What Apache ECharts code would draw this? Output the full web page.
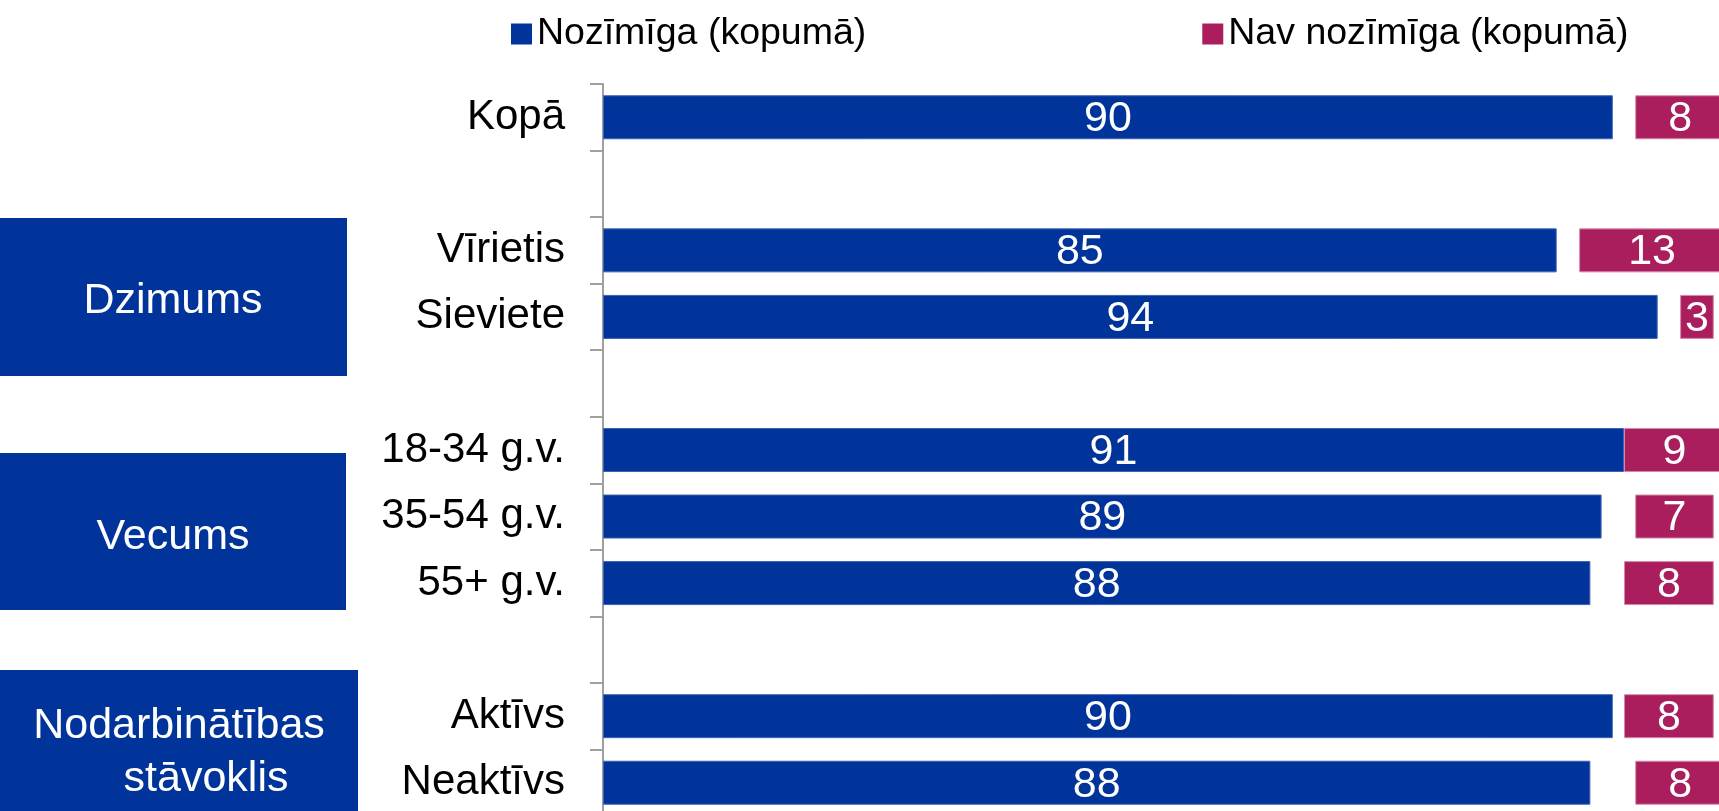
<!DOCTYPE html>
<html>
<head>
<meta charset="utf-8">
<script src="https://cdn.jsdelivr.net/npm/echarts@6/dist/echarts.min.js"></script>
<style>
  html, body { margin: 0; padding: 0; background: #fff; }
  #chart { width: 1719px; height: 811px; }
</style>
</head>
<body>
<div id="chart"></div>
<script>
// rows top to bottom, '' rows are the blank spacers between groups
const categories = ['Kopā', '', 'Vīrietis', 'Sieviete', '', '18-34 g.v.', '35-54 g.v.', '55+ g.v.', '', 'Aktīvs', 'Neaktīvs']
const significant = [90, '-', 85, 94, '-', 91, 89, 88, '-', 90, 88]
// share not shown (hard to say)
const notShown = [2, '-', 2, 2, '-', 0, 3, 3, '-', 1, 4]
const notSignificant = [8, '-', 13, 3, '-', 9, 7, 8, '-', 8, 8]
const legendNames = ['Nozīmīga (kopumā)', 'Nav nozīmīga (kopumā)']

const BLUE = '#00349A'
const PINK = '#AA1E5E'
const FONT = '"Liberation Sans", Arial, sans-serif'

const chart = echarts.init(document.getElementById('chart'))

const barLabel = {
  show: true,
  position: 'inside',
  color: '#fff',
  fontSize: 43,
  fontFamily: FONT,
  offset: [0, 2],
}

const groupBox = (y, h, w) => ({
  type: 'rect',
  left: 0,
  top: y,
  shape: { width: w, height: h },
  style: { fill: BLUE },
  silent: true,
})

const boxText = (text, x, y) => ({
  type: 'text',
  x: x,
  y: y,
  style: {
    text: text,
    fill: '#fff',
    font: '43px ' + FONT,
    textAlign: 'center',
    textVerticalAlign: 'middle',
  },
  silent: true,
})

chart.setOption({
  animation: false,
  textStyle: { fontFamily: FONT },
  legend: {
    data: legendNames,
    left: 506,
    top: 10,
    icon: 'rect',
    itemWidth: 21,
    itemHeight: 21,
    itemGap: 336,
    itemStyle: { borderWidth: 0 },
    textStyle: { fontSize: 37.5, color: '#000', fontFamily: FONT },
  },
  // the plot runs slightly past the right and bottom edges, as in the source
  grid: {
    left: 603,
    top: 84,
    width: 1122,
    height: 732,
    outerBoundsMode: 'none',
    containLabel: false,
  },
  xAxis: {
    type: 'value',
    min: 0,
    max: 100,
    show: false,
  },
  yAxis: {
    type: 'category',
    data: categories,
    inverse: true,
    axisLine: { show: true, lineStyle: { color: '#A0A0A0', width: 2 } },
    axisTick: { show: true, inside: false, length: 13, lineStyle: { color: '#A0A0A0', width: 2 } },
    axisLabel: {
      fontSize: 42,
      color: '#000',
      margin: 38,
      fontFamily: FONT,
      padding: [8, 0, 0, 0],
    },
  },
  series: [
    {
      name: legendNames[0],
      type: 'bar',
      stack: 'all',
      barWidth: 44,
      data: significant,
      itemStyle: { color: BLUE, borderColor: '#3D63B5', borderWidth: 1 },
      label: barLabel,
    },
    {
      name: 'gap',
      type: 'bar',
      stack: 'all',
      data: notShown,
      itemStyle: { color: 'rgba(0,0,0,0)' },
      label: { show: false },
      silent: true,
    },
    {
      name: legendNames[1],
      type: 'bar',
      stack: 'all',
      data: notSignificant,
      itemStyle: { color: PINK, borderColor: '#D58AAA', borderWidth: 1 },
      label: barLabel,
    },
  ],
  graphic: [
    groupBox(218, 158, 347),
    boxText('Dzimums', 173, 301),
    groupBox(453, 157, 346),
    boxText('Vecums', 173, 537),
    groupBox(670, 150, 358),
    boxText('Nodarbinātības', 179, 726),
    boxText('stāvoklis', 206, 779),
  ],
})

window.addEventListener('resize', () => chart.resize())
</script>
</body>
</html>
